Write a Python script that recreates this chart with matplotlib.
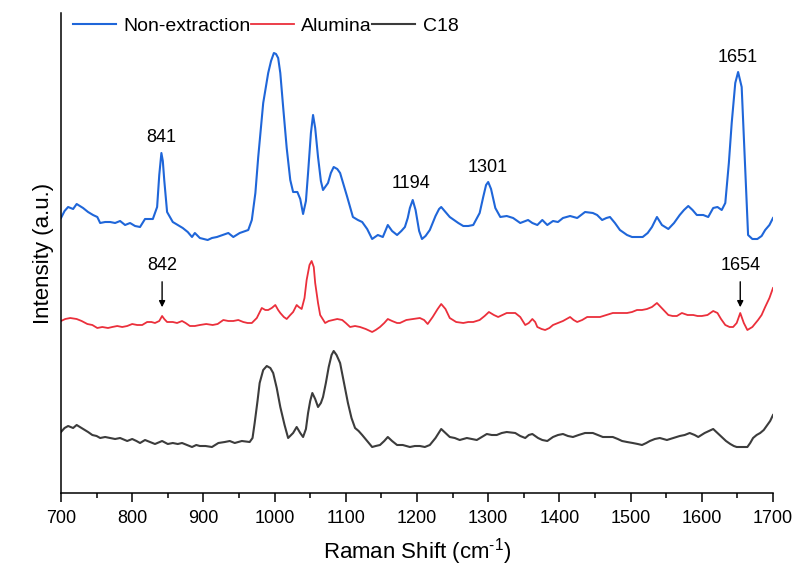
import numpy as np
import matplotlib
matplotlib.use('Agg')
import matplotlib.pyplot as plt

plt.rcParams['font.family'] = ['Liberation Sans', 'DejaVu Sans']
plt.rcParams['mathtext.fontset'] = 'custom'
plt.rcParams['mathtext.rm'] = 'Liberation Sans'
plt.rcParams['mathtext.it'] = 'Liberation Sans:italic'
plt.rcParams['mathtext.default'] = 'regular'

# Non-extraction (blue)
wn_blue = [700, 705, 710, 717, 722, 731, 738, 745, 751, 755, 762, 769, 776, 783, 790, 797,
           804, 811, 818, 829, 835, 838, 841, 843, 845, 849, 857, 864, 871, 878, 884, 888,
           895, 906, 912, 919, 927, 935, 942, 951, 963, 968, 973, 977, 984, 991, 995, 999,
           1002, 1005, 1008, 1012, 1017, 1022, 1026, 1032, 1036, 1040, 1044, 1047, 1051,
           1054, 1057, 1061, 1065, 1068, 1075, 1079, 1083, 1088, 1092, 1097, 1102, 1110,
           1117, 1123, 1130, 1137, 1145, 1152, 1159, 1165, 1172, 1178, 1183, 1187, 1190,
           1194, 1198, 1203, 1207, 1212, 1218, 1226, 1231, 1234, 1240, 1246, 1252, 1258,
           1265, 1272, 1279, 1288, 1293, 1297, 1300, 1304, 1310, 1317, 1326, 1335, 1345,
           1356, 1362, 1369, 1376, 1383, 1391, 1398, 1405, 1415, 1425, 1436, 1447, 1453,
           1460, 1466, 1471, 1478, 1485, 1495, 1502, 1509, 1517, 1524, 1530, 1537, 1544,
           1553, 1561, 1569, 1575, 1581, 1587, 1593, 1602, 1609, 1616, 1622, 1628, 1633,
           1638, 1642, 1647, 1651, 1656, 1660, 1665, 1671, 1678, 1684, 1689, 1695, 1700]
int_blue = [275, 282, 286, 284, 289, 285, 281, 278, 276, 270, 271, 271, 270, 272, 268, 270,
            267, 266, 274, 274, 286, 318, 340, 332, 313, 281, 271, 268, 265, 261, 256, 260,
            255, 253, 255, 256, 258, 260, 256, 260, 263, 273, 300, 336, 390, 420, 432, 440,
            439, 435, 420, 386, 345, 313, 301, 301, 294, 279, 292, 320, 360,
            378, 365, 336, 312, 303, 310, 320, 326, 324, 320, 308, 296, 276,
            273, 271, 264, 254, 258, 256, 268, 262, 258, 262, 266, 275, 285,
            293, 283, 262, 254, 257, 263, 277, 284, 286, 281, 276, 273, 270,
            267, 267, 268, 280, 296, 308, 311, 304, 285, 276, 277, 275, 270,
            273, 270, 268, 273, 268, 272, 271, 275, 277, 275, 281, 280, 278,
            273, 275, 276, 270, 263, 258, 256, 256, 256, 260, 266, 276, 268,
            264, 270, 278, 283, 287, 283, 278, 278, 276, 285, 286, 283, 290,
            330, 370, 410, 421, 406, 340, 258, 254, 254, 257, 263, 268, 275]

# Alumina (red)
wn_red = [700, 706, 713, 722, 729, 737, 744, 751, 758, 766, 772, 779, 786, 793, 800, 807,
          814, 821, 827, 832, 838, 842, 845, 849, 857, 863, 870, 875, 881, 888, 895, 904,
          913, 920, 928, 935, 942, 949, 956, 962, 968, 975, 982, 987, 991, 996, 1001, 1005,
          1008, 1013, 1017, 1022, 1026, 1031, 1034, 1038, 1042, 1045, 1049, 1052, 1055,
          1057, 1061, 1064, 1071, 1076, 1082, 1088, 1095, 1100, 1106, 1113, 1120, 1128,
          1137, 1142, 1148, 1154, 1159, 1165, 1172, 1176, 1185, 1194, 1204, 1210, 1215,
          1222, 1229, 1234, 1240, 1246, 1255, 1265, 1272, 1279, 1288, 1295, 1301, 1308,
          1314, 1320, 1326, 1332, 1338, 1345, 1352, 1357, 1362, 1366, 1369, 1375, 1380,
          1386, 1391, 1398, 1405, 1410, 1415, 1420, 1425, 1432, 1439, 1448, 1457, 1466,
          1475, 1485, 1495, 1502, 1509, 1516, 1523, 1530, 1537, 1545, 1553, 1559, 1565,
          1572, 1580, 1588, 1594, 1600, 1608, 1616, 1622, 1627, 1633, 1639, 1644, 1649,
          1654, 1659, 1664, 1671, 1679, 1684, 1689, 1695, 1700]
int_red = [172, 174, 175, 174, 172, 169, 168, 165, 166, 165, 166, 167, 166, 167, 169, 168,
           168, 171, 171, 170, 172, 177, 174, 171, 171, 170, 172, 170, 167, 167, 168, 169,
           168, 169, 173, 172, 172, 173, 171, 170, 170, 175, 185, 183, 183, 185, 188, 183,
           180, 176, 174, 178, 181, 188, 186, 184, 195, 213, 228, 232, 226,
           210, 190, 178, 170, 172, 173, 174, 173, 170, 166, 167, 166, 164,
           161, 163, 166, 170, 174, 172, 170, 170, 173, 174, 175, 173, 169,
           176, 184, 189, 184, 175, 171, 170, 171, 171, 173, 177, 181, 178,
           176, 178, 180, 180, 180, 176, 168, 170, 174, 171, 166, 164, 163,
           165, 168, 170, 172, 174, 176, 173, 171, 173, 176, 176, 176, 178,
           180, 180, 180, 181, 183, 183, 184, 186, 190, 184, 178, 177, 177,
           180, 178, 178, 177, 177, 178, 182, 180, 174, 168, 166, 166, 170,
           180, 170, 163, 166, 173, 178, 186, 195, 205]

# C18 (dark grey)
wn_c18 = [700, 705, 710, 717, 722, 731, 738, 744, 750, 755, 762, 769, 776, 783, 793, 800,
          806, 811, 818, 825, 832, 842, 850, 857, 864, 870, 877, 884, 890, 895, 903, 912,
          921, 930, 937, 944, 954, 965, 969, 972, 976, 979, 984, 989, 994, 998, 1003, 1008,
          1014, 1019, 1026, 1031, 1036, 1040, 1044, 1047, 1050, 1053, 1057, 1061, 1065,
          1068, 1072, 1076, 1080, 1083, 1087, 1092, 1097, 1103, 1108, 1113, 1118, 1123,
          1130, 1137, 1142, 1148, 1154, 1159, 1165, 1172, 1180, 1190, 1197, 1204, 1211,
          1218, 1226, 1234, 1240, 1246, 1253, 1260, 1270, 1277, 1284, 1291, 1298, 1305,
          1312, 1319, 1326, 1338, 1345, 1352, 1357, 1362, 1366, 1370, 1376, 1383, 1391,
          1398, 1405, 1412, 1419, 1427, 1436, 1447, 1454, 1461, 1468, 1475, 1482, 1488,
          1495, 1503, 1510, 1516, 1522, 1527, 1534, 1541, 1551, 1560, 1569, 1576, 1583,
          1590, 1595, 1604, 1610, 1616, 1622, 1628, 1634, 1640, 1645, 1649, 1655, 1664,
          1668, 1672, 1677, 1682, 1687, 1692, 1696, 1700]
int_c18 = [61, 65, 67, 65, 68, 64, 61, 58, 57, 55, 56, 55, 54, 55, 52, 54,
           52, 50, 53, 51, 49, 52, 49, 50, 49, 50, 48, 46, 48, 47, 47, 46,
           50, 51, 52, 50, 52, 51, 55, 70, 92, 110, 123, 127, 125, 120, 105, 86,
           68, 55, 60, 66, 60, 56, 64, 80, 92, 100, 94, 86, 90,
           96, 110, 126, 138, 142, 138, 130, 112, 90, 75, 65, 62, 58,
           52, 46, 47, 48, 52, 56, 52, 48, 48, 46, 47, 47, 46,
           48, 55, 64, 60, 56, 55, 53, 55, 54, 53, 56, 59, 58,
           58, 60, 61, 60, 57, 55, 58, 59, 57, 55, 53, 52, 56,
           58, 59, 57, 56, 58, 60, 60, 58, 56, 56, 56, 54, 52,
           51, 50, 49, 48, 50, 52, 54, 55, 53, 55, 57, 58, 60,
           58, 56, 60, 62, 64, 60, 56, 52, 49, 47, 46, 46, 46,
           50, 55, 58, 60, 63, 68, 72, 78]

peak_labels = ['841', '1194', '1301', '1651']
peak_x = [841, 1192, 1299, 1650]
peak_y = [355, 310, 326, 435]

arrow_labels = ['842', '1654']
arrow_x = [842, 1654]

fig = plt.figure(figsize=(7.98, 5.67), dpi=100)
ax = fig.add_axes([61/798, 1-493/567, (773-61)/798, (493-13)/567])

ax.plot(wn_blue, int_blue, color='#1f66d9', lw=1.5, label='Non-extraction')
ax.plot(wn_red, int_red, color='#eb2f3b', lw=1.3, label='Alumina')
ax.plot(wn_c18, int_c18, color='#3c3c3c', lw=1.5, label='C18')

for lab, x, y in zip(peak_labels, peak_x, peak_y):
    ax.text(x, y, lab, ha='center', va='center', fontsize=13)

for lab, x in zip(arrow_labels, arrow_x):
    ax.annotate('', xy=(x, 183), xytext=(x, 214),
                arrowprops=dict(arrowstyle='-|>', color='black', lw=1, mutation_scale=9))
    ax.text(x, 227, lab, ha='center', va='center', fontsize=13)

ax.set_xlim(700, 1700)
ax.set_ylim(0, 480)
ax.set_xticks(np.arange(700, 1701, 100))
ax.set_xticks(np.arange(750, 1700, 100), minor=True)
ax.set_yticks([])
ax.spines['top'].set_visible(False)
ax.spines['right'].set_visible(False)
ax.spines['left'].set_linewidth(1.1)
ax.spines['bottom'].set_linewidth(1.1)
ax.tick_params(axis='x', which='major', length=6.5, width=1.1, labelsize=13, pad=6)
ax.tick_params(axis='x', which='minor', length=3.5, width=1.1)

ax.set_xlabel('Raman Shift (cm$^{\\text{-1}}$)', fontsize=16, labelpad=6)
ax.set_ylabel('Intensity (a.u.)', fontsize=16, labelpad=5)

ax.legend(loc='center left', bbox_to_anchor=(73/798, 1-26/567), bbox_transform=fig.transFigure,
          ncol=3, frameon=False, fontsize=14, handlelength=2.2, handletextpad=0.4,
          columnspacing=0.0, borderpad=0, borderaxespad=0)

fig.savefig('out.png', dpi=100)
